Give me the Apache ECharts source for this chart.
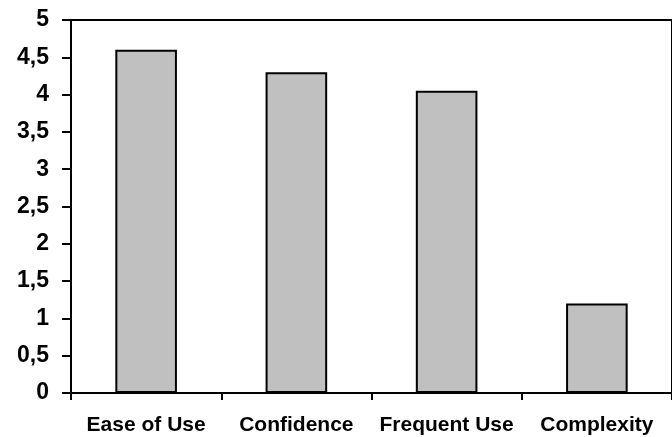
<!DOCTYPE html>
<html>
<head>
<meta charset="utf-8">
<script src="https://cdn.jsdelivr.net/npm/echarts@6/dist/echarts.min.js"></script>
<style>
  html, body { margin: 0; padding: 0; background: #fff; }
  #chart { width: 672px; height: 437px; }
</style>
</head>
<body>
<div id="chart"></div>
<script>
// values
var categories = ['Ease of Use', 'Confidence', 'Frequent Use', 'Complexity']
var scores = [4.6, 4.3, 4.05, 1.2]

var chart = echarts.init(document.getElementById('chart'), null, { renderer: 'canvas' })

chart.setOption({
  animation: false,
  backgroundColor: '#fff',
  grid: {
    left: 71,
    top: 20,
    width: 610,
    height: 373,
    show: true,
    borderColor: '#000',
    borderWidth: 2,
    backgroundColor: 'transparent'
  },
  xAxis: {
    type: 'category',
    data: categories,
    axisLine: { lineStyle: { color: '#000', width: 2 } },
    axisTick: { show: true, interval: 0, length: 7, lineStyle: { color: '#000', width: 2 } },
    axisLabel: {
      interval: 0,
      color: '#000',
      fontFamily: 'Liberation Sans, Arial, sans-serif',
      fontWeight: 'bold',
      fontSize: 21,
      margin: 22
    }
  },
  yAxis: {
    type: 'value',
    min: 0,
    max: 5,
    interval: 0.5,
    splitLine: { show: false },
    axisLine: { show: true, lineStyle: { color: '#000', width: 2 } },
    axisTick: { show: true, length: 9, lineStyle: { color: '#000', width: 2 } },
    axisLabel: {
      color: '#000',
      fontFamily: 'Liberation Sans, Arial, sans-serif',
      fontWeight: 'bold',
      fontSize: 23,
      margin: 22,
      formatter: function (v) {
        return String(v).replace('.', ',')
      }
    }
  },
  series: [{
    type: 'bar',
    data: scores,
    barWidth: '41%',
    itemStyle: {
      color: '#c0c0c0',
      borderColor: '#000',
      borderWidth: 2
    }
  }]
})
</script>
</body>
</html>
